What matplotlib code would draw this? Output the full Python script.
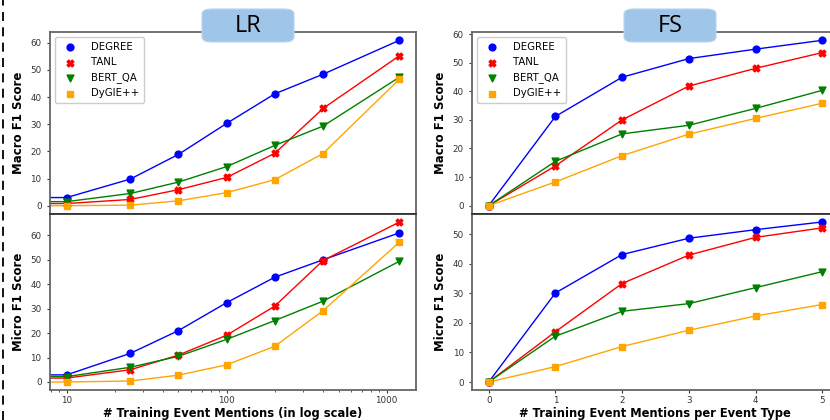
import matplotlib.pyplot as plt
from matplotlib.lines import Line2D
from matplotlib.patches import FancyBboxPatch
from matplotlib.ticker import FixedLocator, FixedFormatter

# LR data (first x is off-axis, lines reach the left spine in the original)
lr_x = [5, 10, 25, 50, 100, 200, 400, 1200]
lr_macro = {
    'DEGREE': [3.0, 3.0, 9.8, 18.9, 30.3, 41.2, 48.4, 60.9],
    'TANL': [0.8, 0.8, 2.3, 5.9, 10.4, 19.3, 35.8, 55.2],
    'BERT_QA': [1.5, 1.5, 4.5, 8.7, 14.4, 22.2, 29.3, 47.3],
    'DyGIE++': [0.0, 0.0, 0.2, 1.8, 4.8, 9.6, 19.2, 46.6],
}
lr_micro = {
    'DEGREE': [2.9, 2.9, 11.7, 21.0, 32.4, 42.8, 49.9, 60.9],
    'TANL': [1.6, 1.6, 5.0, 11.0, 19.1, 31.0, 49.6, 65.3],
    'BERT_QA': [2.2, 2.2, 6.0, 10.5, 17.4, 25.1, 33.0, 49.3],
    'DyGIE++': [0.0, 0.0, 0.4, 2.8, 7.0, 14.6, 29.1, 57.1],
}
lr_ticks = [10, 100, 1000]
lr_ticklabels = ['10', '100', '1000']

# FS data
fs_x = [0, 1, 2, 3, 4, 5]
fs_macro = {
    'DEGREE': [0.0, 31.2, 44.9, 51.4, 54.7, 57.8],
    'TANL': [0.0, 13.9, 30.0, 41.8, 48.0, 53.5],
    'BERT_QA': [0.0, 15.5, 25.1, 28.1, 34.0, 40.3],
    'DyGIE++': [0.0, 8.3, 17.5, 25.0, 30.5, 35.8],
}
fs_micro = {
    'DEGREE': [0.0, 30.1, 43.1, 48.6, 51.5, 54.1],
    'TANL': [0.0, 17.0, 33.3, 42.9, 48.9, 52.1],
    'BERT_QA': [0.0, 15.5, 23.9, 26.5, 31.9, 37.3],
    'DyGIE++': [0.0, 5.2, 12.0, 17.5, 22.3, 26.2],
}

colors = {'DEGREE': 'blue', 'TANL': 'red', 'BERT_QA': 'green', 'DyGIE++': 'orange'}
markers = {'DEGREE': 'o', 'TANL': 'X', 'BERT_QA': 'v', 'DyGIE++': 's'}
sizes = {'DEGREE': 24, 'TANL': 24, 'BERT_QA': 24, 'DyGIE++': 22}

fig = plt.figure(figsize=(8.3, 4.2), dpi=100)

top, mid, bot = 0.9238, 0.4905, 1 - 390 / 420
ax_lr1 = fig.add_axes([0.0602, mid, 0.441, top - mid])
ax_lr2 = fig.add_axes([0.0602, bot, 0.441, mid - bot])
ax_fs1 = fig.add_axes([0.5687, mid, 0.442, top - mid])
ax_fs2 = fig.add_axes([0.5687, bot, 0.442, mid - bot])


def draw(ax, x, data, skip_first, legend):
    for name in data:
        ys = data[name]
        ax.plot(x, ys, color=colors[name], lw=1.0, zorder=2)
        xs_m = x[1:] if skip_first else x
        ys_m = ys[1:] if skip_first else ys
        ax.scatter(xs_m, ys_m, color=colors[name], marker=markers[name],
                   s=sizes[name], label=name, zorder=3)
    if legend:
        ax.legend(loc='upper left', fontsize=7.3, scatterpoints=1,
                  handletextpad=1.0, borderpad=0.5, labelspacing=0.5,
                  framealpha=1, edgecolor='#cccccc', fancybox=True)
    for sp in ax.spines.values():
        sp.set_color('#666666')
        sp.set_linewidth(1.3)
    ax.tick_params(labelsize=6.3, colors='#333333', length=2.5, width=0.8)
    ax.tick_params(axis='x', pad=1.5)
    ax.tick_params(which='minor', length=1.5, width=0.6, colors='#333333')


draw(ax_lr1, lr_x, lr_macro, True, True)
draw(ax_lr2, lr_x, lr_micro, True, False)
draw(ax_fs1, fs_x, fs_macro, False, True)
draw(ax_fs2, fs_x, fs_micro, False, False)

for ax in (ax_lr1, ax_lr2):
    ax.set_xscale('log')
    ax.set_xlim(7.87, 1524)
ax_lr2.xaxis.set_major_locator(FixedLocator(lr_ticks))
ax_lr2.xaxis.set_major_formatter(FixedFormatter(lr_ticklabels))
ax_lr2.xaxis.set_minor_formatter(FixedFormatter([]))
ax_lr1.set_ylim(-3.05, 63.95)
ax_lr2.set_ylim(-3.27, 68.6)

for ax in (ax_fs1, ax_fs2):
    ax.set_xlim(-0.25, 5.25)
    ax.set_xticks(fs_x)
ax_fs1.set_ylim(-2.9, 60.7)
ax_fs2.set_ylim(-2.7, 56.8)

for ax in (ax_lr1, ax_fs1):
    ax.tick_params(axis='x', which='both', bottom=False, labelbottom=False)
    ax.spines['bottom'].set_color('#333333')
for ax in (ax_lr2, ax_fs2):
    ax.spines['top'].set_color('#333333')

ax_lr1.set_yticks([0, 10, 20, 30, 40, 50, 60])
ax_lr2.set_yticks([0, 10, 20, 30, 40, 50, 60])
ax_fs1.set_yticks([0, 10, 20, 30, 40, 50, 60])
ax_fs2.set_yticks([0, 10, 20, 30, 40, 50])

lab = dict(fontsize=8.5, fontweight='bold')
ax_lr1.set_ylabel('Macro F1 Score', labelpad=4, **lab)
ax_lr2.set_ylabel('Micro F1 Score', labelpad=4, **lab)
ax_fs1.set_ylabel('Macro F1 Score', labelpad=4, **lab)
ax_fs2.set_ylabel('Micro F1 Score', labelpad=4, **lab)

# x labels sit at the very bottom edge of the figure
fig.text(233 / 830, 0.3 / 420, '# Training Event Mentions (in log scale)',
         ha='center', va='bottom', fontsize=8.3, fontweight='bold')
fig.text(655 / 830, 0.3 / 420, '# Training Event Mentions per Event Type',
         ha='center', va='bottom', fontsize=8.3, fontweight='bold')

# title boxes
for x0, text in [(202, 'LR'), (624, 'FS')]:
    box = FancyBboxPatch((x0 / 830, 1 - 42 / 420), 92 / 830, 33 / 420,
                         boxstyle='round,pad=0,rounding_size=0.012',
                         transform=fig.transFigure, facecolor='#9fc5e8',
                         edgecolor='#b8d4ee', lw=0.8, zorder=10)
    fig.add_artist(box)
    fig.text((x0 + 46) / 830, 1 - 25.5 / 420, text, ha='center', va='center',
             fontsize=17, family='Open Sans', zorder=11)

# dashed line on the left edge
fig.add_artist(Line2D([3 / 830, 3 / 830], [0, 1], transform=fig.transFigure,
                      color='black', lw=1.3, ls=(0, (5, 3.5))))

fig.savefig('out.png', dpi=100)
